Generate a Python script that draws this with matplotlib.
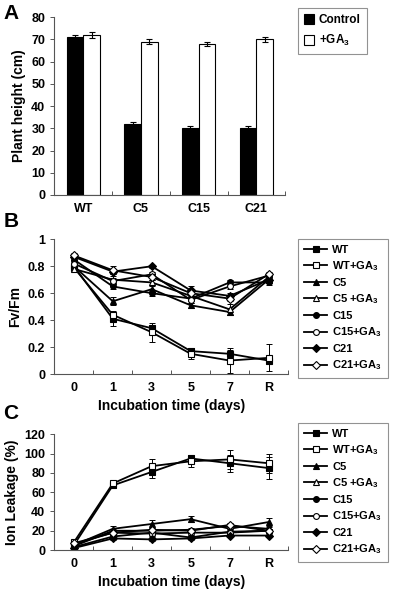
import matplotlib
matplotlib.use('Agg')
import matplotlib.pyplot as plt
from matplotlib.ticker import FormatStrFormatter, FixedLocator

plt.rcParams['font.family'] = ['Liberation Sans', 'DejaVu Sans']
plt.rcParams['font.weight'] = 'bold'
plt.rcParams['axes.labelweight'] = 'bold'
plt.rcParams['mathtext.default'] = 'regular'

# panel A: plant height
lines_a = ['WT', 'C5', 'C15', 'C21']
control = [71, 32, 30, 30]
control_err = [1.0, 0.8, 1.2, 1.2]
ga3 = [72, 69, 68, 70]
ga3_err = [1.2, 1.0, 1.0, 1.0]

# panels B and C: time course
days = ['0', '1', '3', '5', '7', 'R']
series = ['WT', 'WT+GA$_3$', 'C5', 'C5 +GA$_3$', 'C15', 'C15+GA$_3$', 'C21', 'C21+GA$_3$']
markers = ['s', 's', '^', '^', 'o', 'o', 'D', 'D']
filled = [True, False, True, False, True, False, True, False]

fvfm = [
    [0.80, 0.41, 0.34, 0.17, 0.15, 0.10],
    [0.79, 0.44, 0.31, 0.15, 0.10, 0.12],
    [0.80, 0.54, 0.63, 0.51, 0.46, 0.70],
    [0.78, 0.70, 0.68, 0.58, 0.48, 0.72],
    [0.85, 0.65, 0.60, 0.56, 0.68, 0.68],
    [0.82, 0.69, 0.74, 0.55, 0.65, 0.73],
    [0.87, 0.76, 0.80, 0.62, 0.58, 0.70],
    [0.88, 0.77, 0.72, 0.60, 0.56, 0.74],
]
fvfm_err = [
    [0.02, 0.05, 0.02, 0.02, 0.03, 0.02],
    [0.02, 0.03, 0.07, 0.04, 0.09, 0.10],
    [0.02, 0.03, 0.02, 0.02, 0.02, 0.02],
    [0.02, 0.03, 0.02, 0.02, 0.04, 0.02],
    [0.02, 0.02, 0.02, 0.02, 0.02, 0.02],
    [0.02, 0.02, 0.02, 0.02, 0.02, 0.02],
    [0.02, 0.02, 0.01, 0.03, 0.02, 0.01],
    [0.02, 0.03, 0.02, 0.02, 0.02, 0.02],
]

leak = [
    [5, 67, 81, 95, 90, 85],
    [8, 69, 87, 92, 94, 90],
    [5, 22, 27, 32, 22, 29],
    [4, 20, 20, 21, 25, 22],
    [3, 14, 18, 13, 19, 20],
    [6, 18, 17, 18, 18, 20],
    [2, 12, 11, 12, 15, 15],
    [7, 18, 21, 20, 26, 20],
]
leak_err = [
    [2, 3, 6, 4, 9, 11],
    [2, 3, 7, 6, 10, 10],
    [2, 3, 4, 3, 3, 4],
    [2, 2, 2, 2, 2, 2],
    [2, 2, 2, 2, 2, 2],
    [2, 2, 2, 2, 2, 2],
    [2, 2, 2, 2, 2, 2],
    [2, 2, 2, 2, 2, 2],
]

fig = plt.figure(figsize=(4.0, 5.89), dpi=100)

def style_axes(ax, n):
    ax.spines['top'].set_visible(False)
    ax.spines['right'].set_visible(False)
    for s in ['left', 'bottom']:
        ax.spines[s].set_linewidth(0.8)
        ax.spines[s].set_color('#555555')
    ax.set_xlim(-0.5, n - 0.5)
    ax.xaxis.set_minor_locator(FixedLocator([i + 0.5 for i in range(n)]))
    ax.tick_params(axis='x', which='major', length=0, labelsize=9, pad=6)
    ax.tick_params(axis='x', which='minor', direction='in', length=3, width=0.7, color='#555555')
    ax.tick_params(axis='y', direction='out', length=3, width=0.7, color='#555555', labelsize=9)

# ---- A
ax_a = fig.add_axes([0.136, 0.669, 0.577, 0.3017])
w = 0.29
xa = range(len(lines_a))
ax_a.bar([x - w / 2 for x in xa], control, w, yerr=control_err, color='black',
         edgecolor='black', linewidth=0.8, capsize=2.5, error_kw=dict(elinewidth=0.8, capthick=0.8),
         label='Control')
ax_a.bar([x + w / 2 for x in xa], ga3, w, yerr=ga3_err, color='white',
         edgecolor='black', linewidth=0.8, capsize=2.5, error_kw=dict(elinewidth=0.8, capthick=0.8),
         label='+GA$_3$')
style_axes(ax_a, len(lines_a))
ax_a.set_xticks(list(xa))
ax_a.set_xticklabels(lines_a)
ax_a.set_ylim(0, 80)
ax_a.set_yticks(range(0, 81, 10))
ax_a.set_ylabel('Plant height (cm)', fontsize=10, labelpad=4)
leg = ax_a.legend(loc='upper left', bbox_to_anchor=(297.7 / 400, 1 - 8 / 589),
                  bbox_transform=fig.transFigure, fontsize=8.5, frameon=True, fancybox=False,
                  borderaxespad=0, handlelength=0.9, handleheight=0.9, handletextpad=0.4,
                  borderpad=0.5, labelspacing=0.6)
leg.get_frame().set_edgecolor('#777777')
leg.get_frame().set_linewidth(0.8)

# ---- B and C
def line_panel(rect, data, err, ylim, yticks, fmt, ylabel, legend_top):
    ax = fig.add_axes(rect)
    x = list(range(len(days)))
    handles = []
    for i, name in enumerate(series):
        ax.errorbar(x, data[i], yerr=err[i], fmt='none', ecolor='black',
                    elinewidth=0.7, capsize=2.5, capthick=0.7)
        h, = ax.plot(x, data[i], color='black', linewidth=1.3,
                     marker=markers[i], markersize=4.2 if markers[i] != 'D' else 3.6,
                     markerfacecolor='black' if filled[i] else 'white',
                     markeredgecolor='black', markeredgewidth=0.8, label=name)
        handles.append(h)
    style_axes(ax, len(days))
    ax.set_xticks(x)
    ax.set_xticklabels(days)
    ax.set_ylim(*ylim)
    ax.set_yticks(yticks)
    ax.yaxis.set_major_formatter(FormatStrFormatter(fmt))
    ax.set_ylabel(ylabel, fontsize=10, labelpad=4)
    ax.set_xlabel('Incubation time (days)', fontsize=10, labelpad=3)
    leg = ax.legend(handles, series, loc='upper left',
                    bbox_to_anchor=(298.3 / 400, 1 - legend_top / 589),
                    bbox_transform=fig.transFigure, fontsize=8, frameon=True, fancybox=False,
                    borderaxespad=0, handlelength=2.1, handletextpad=0.45,
                    borderpad=0.5, labelspacing=0.42)
    leg.get_frame().set_edgecolor('#777777')
    leg.get_frame().set_linewidth(0.8)
    return ax

line_panel([0.136, 0.365, 0.584, 0.2287], fvfm, fvfm_err, (0, 1),
           [0, 0.2, 0.4, 0.6, 0.8, 1.0], '%g', 'Fv/Fm', 239)
line_panel([0.136, 0.0662, 0.584, 0.1964], leak, leak_err, (0, 120),
           list(range(0, 121, 20)), '%g', 'Ion Leakage (%)', 423)

fig.text(0.008, 1 - 4 / 589, 'A', fontsize=15, va='top', ha='left')
fig.text(0.008, 1 - 212 / 589, 'B', fontsize=15, va='top', ha='left')
fig.text(0.008, 1 - 404 / 589, 'C', fontsize=15, va='top', ha='left')

fig.savefig('out.png', dpi=100)
